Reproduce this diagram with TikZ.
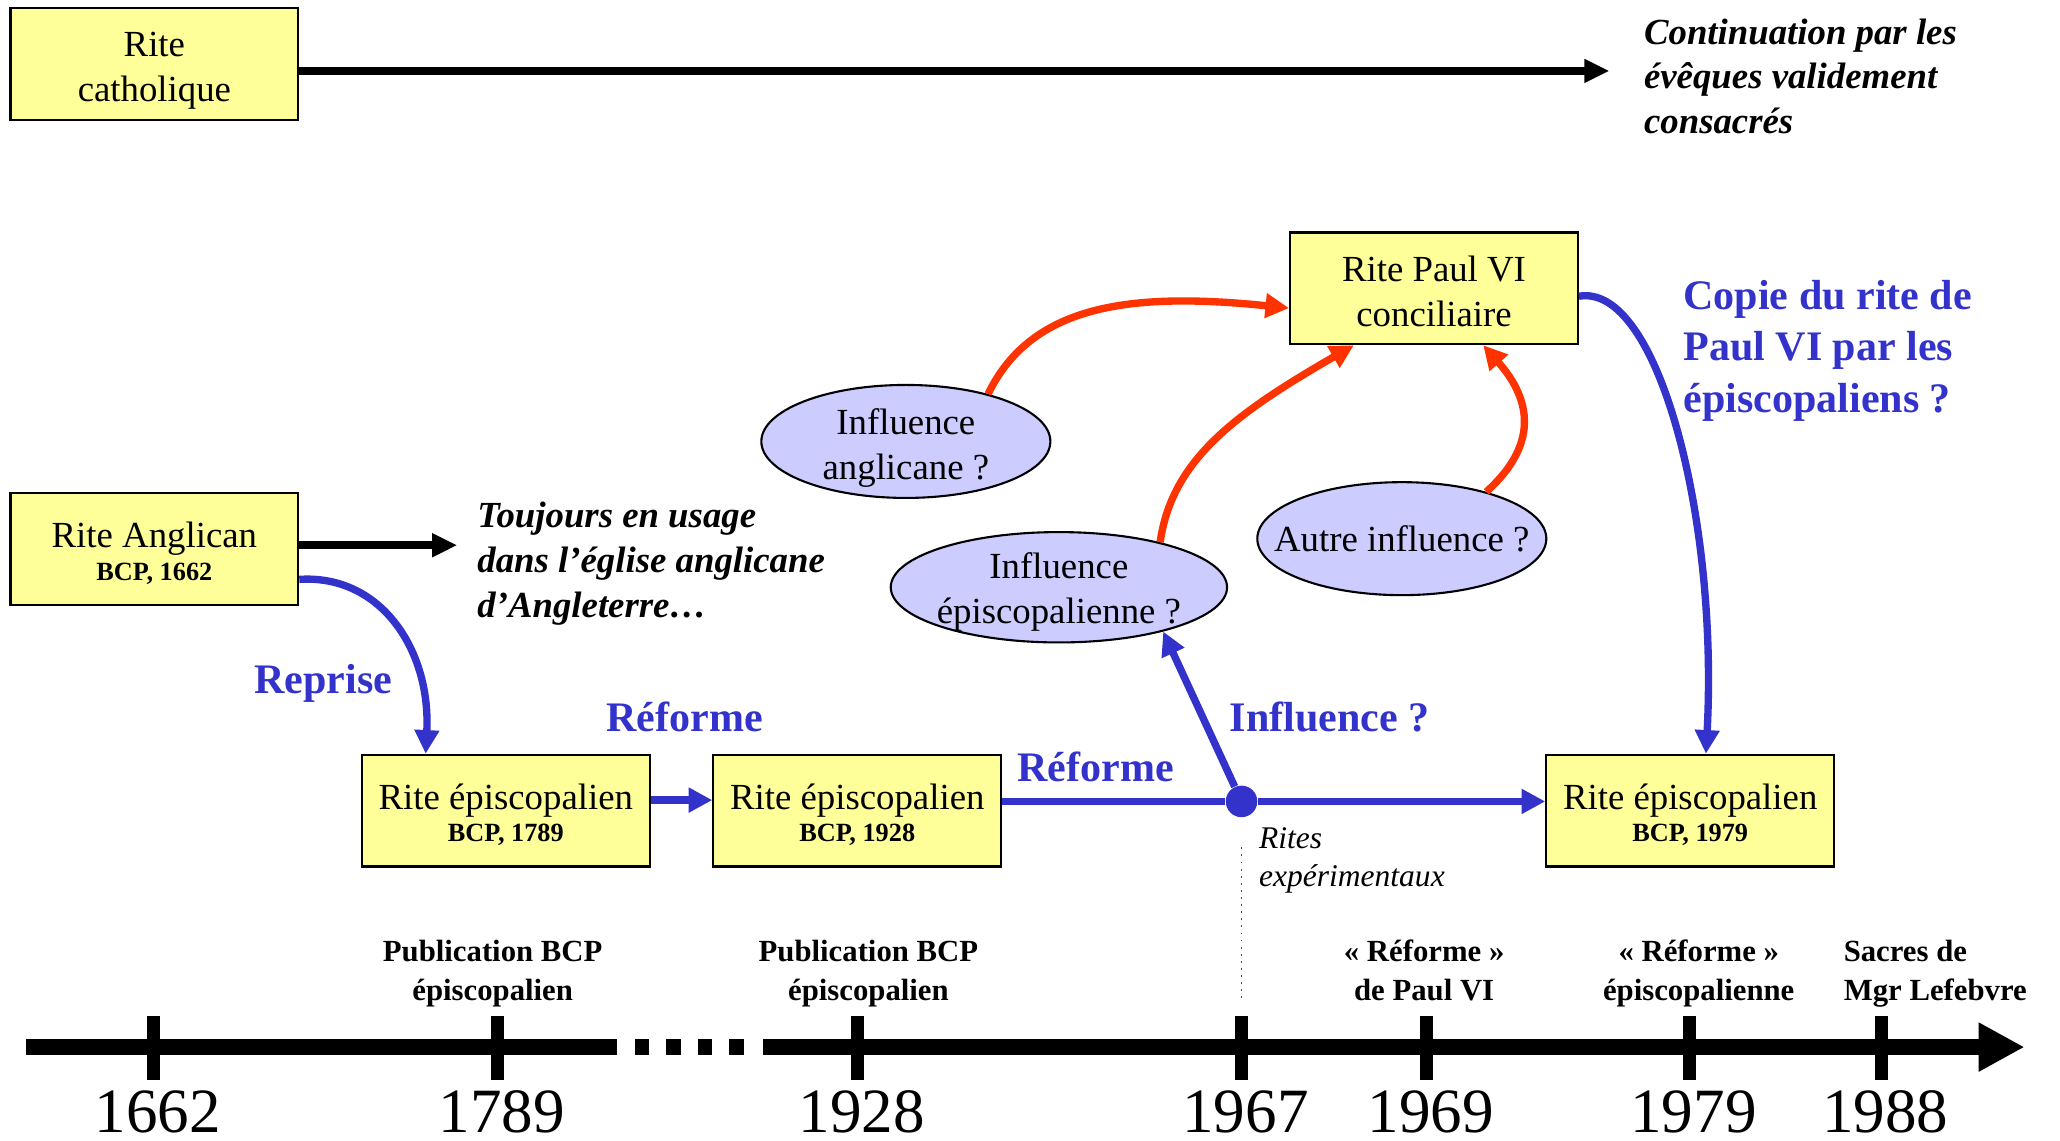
\documentclass[tikz,border=0pt]{standalone}
\usepackage{fontspec}
\setmainfont{Liberation Serif}
\usetikzlibrary{arrows.meta,shapes.geometric}
\definecolor{boxyellow}{HTML}{FFFF99}
\definecolor{ellblue}{HTML}{CCCCFF}
\definecolor{riteblue}{HTML}{3333CC}
\definecolor{infred}{HTML}{FF3300}
\newcommand\topgap[1]{\rule{0pt}{#1}}
\begin{document}
\begin{tikzpicture}[x=0.5pt,y=-0.5pt,
  ritebox/.style={draw=black,line width=0.8pt,fill=boxyellow,minimum width=109.5pt,minimum height=42.5pt,inner sep=0pt,align=center,font=\fontsize{14}{17}\selectfont},
  infl/.style={ellipse,draw=black,line width=0.8pt,fill=ellblue,inner sep=0pt},
  intext/.style={align=center,inner sep=0pt,font=\fontsize{14}{17}\selectfont},
  blk/.style={draw=black,line width=2.9pt,-{Triangle[length=9.5pt,width=8.5pt]}},
  bluearr/.style={draw=riteblue,line width=2.8pt,-{Triangle[length=9pt,width=9pt]}},
  blueline/.style={draw=riteblue,line width=2.8pt},
  redarr/.style={draw=infred,line width=2.8pt,-{Triangle[length=9pt,width=9pt]}},
  bluelab/.style={text=riteblue,font=\fontsize{16}{19.5}\selectfont\bfseries,anchor=base,inner sep=0pt},
  note/.style={font=\fontsize{14}{17}\selectfont\bfseries\itshape,align=left,anchor=west,inner sep=0pt},
  bluenote/.style={text=riteblue,font=\fontsize{16}{19.5}\selectfont\bfseries,align=left,anchor=west,inner sep=0pt},
  evt/.style={font=\fontsize{11.7}{15}\selectfont\bfseries,align=center,inner sep=0pt},
  yearlab/.style={font=\fontsize{24}{28}\selectfont,anchor=base,inner sep=0pt},
  tickmark/.style={draw=black,line width=5pt},
  tline/.style={draw=black,line width=6pt},
]
\useasboundingbox (0,0) rectangle (1568,868);

% boxes
\node[ritebox] (bcat) at (117.5,48.5) {\topgap{14.5pt}Rite\\catholique};
\node[ritebox] (bpaul) at (1091.5,219.5) {\topgap{12pt}Rite Paul VI\\conciliaire};
\node[ritebox] (bang) at (117.5,418) {\topgap{13pt}Rite Anglican\\[-4.5pt]{\fontsize{10}{12}\selectfont\bfseries BCP, 1662}};
\node[ritebox] (b89) at (385,617) {\topgap{13pt}Rite épiscopalien\\[-5pt]{\fontsize{10}{12}\selectfont\bfseries BCP, 1789}};
\node[ritebox] (b28) at (652.5,617) {\topgap{13pt}Rite épiscopalien\\[-5pt]{\fontsize{10}{12}\selectfont\bfseries BCP, 1928}};
\node[ritebox] (b79) at (1286.5,617) {\topgap{13pt}Rite épiscopalien\\[-5pt]{\fontsize{10}{12}\selectfont\bfseries BCP, 1979}};

% ellipses
\node[infl,minimum width=110pt,minimum height=43pt] (eang) at (689.5,336) {};
\node[intext] (tang) at ([yshift=-2.5pt]eang.center) {Influence\\anglicane ?};
\node[infl,minimum width=128pt,minimum height=42pt] (eepi) at (806,447) {};
\node[intext] (tepi) at ([yshift=-1.75pt]eepi.center) {Influence\\épiscopalienne ?};
\node[infl,minimum width=110pt,minimum height=43pt] (eaut) at (1067,410) {};
\node[intext] (taut) at (eaut) {Autre influence ?};

% notes
\node[note] (ncont) at (1251,58) {Continuation par les\\évêques validement\\consacrés};
\node[note] (ntouj) at (363,429) {Toujours en usage\\dans l’église anglicane\\d’Angleterre…};
\node[bluenote] (ncopie) at (1281,267) {Copie du rite de\\Paul VI par les\\épiscopaliens ?};
\node[font=\fontsize{12}{14.5}\selectfont\itshape,align=left,anchor=west,inner sep=0pt] (nrites) at (958,655) {Rites\\expérimentaux};

% blue labels
\node[bluelab] (lrep) at (246,528) {Reprise};
\node[bluelab] (lref1) at (521,557) {Réforme};
\node[bluelab] (lref2) at (834,595) {Réforme};
\node[bluelab] (linf) at (1012,557) {Influence ?};

% black arrows
\coordinate (cend) at (1225,54);
\draw[blk] (bcat.east|-cend) -- (cend);
\coordinate (tjend) at (348,415);
\draw[blk] (bang.east|-tjend) -- (tjend);

% blue connectors
\node[circle,fill=riteblue,minimum size=12pt,inner sep=0pt] (dot) at (945,610) {};
\draw[bluearr] ([yshift=-11.5pt]bang.east) .. controls (290,437) and (328,495) .. ([xshift=-30.5pt]b89.north);
\draw[bluearr] ([yshift=4pt]b89.east) -- ([yshift=4pt]b28.west);
\draw[blueline] (b28.east|-dot) -- (dot);
\draw[bluearr] (dot) -- (b79.west|-dot);
\draw[bluearr] (dot) -- (eepi.-23);
\draw[bluearr] ([yshift=-3pt]bpaul.east) .. controls (1262,215) and (1308,395) .. ([xshift=6pt]b79.north);

% red connectors
\draw[redarr] (eang.30) .. controls (785,232) and (860,222) .. ([yshift=-7.5pt]bpaul.west);
\draw[redarr] (eepi.24) .. controls (892,350) and (940,315) .. ([xshift=-30.5pt]bpaul.south);
\draw[redarr] (eaut.29) .. controls (1175,335) and (1162,300) .. ([xshift=18.75pt]bpaul.south);

% dotted guide
\coordinate (dtop) at (945,645);
\coordinate (dbot) at (945,762);
\draw[dotted,line width=0.7pt,black!70] (dtop) -- (dbot);

% timeline
\coordinate (tl0) at (20,797);
\coordinate (tl1) at (470,797);
\coordinate (tl2) at (581,797);
\coordinate (tlend) at (1541,797);
\draw[tline] (tl0) -- (tl1);
\draw[tline,dash pattern=on 5.5pt off 6.5pt] (483,797) -- (566,797);
\draw[tline,-{Triangle[length=17.5pt,width=17.5pt]}] (tl2) -- (tlend);
\foreach \tx/\yr in {117/1662,379/1789,653/1928,945/1967,1086/1969,1286/1979,1432/1988}{
  \draw[tickmark] (\tx,773) -- (\tx,822);
  \node[yearlab] (y\yr) at (\tx+3,862) {\yr};
}

% events
\node[evt] (ev1) at (375,741) {Publication BCP\\épiscopalien};
\node[evt] (ev2) at (661,741) {Publication BCP\\épiscopalien};
\node[evt] (ev3) at (1084,738.5) {«~Réforme~»\\de Paul VI};
\node[evt] (ev4) at (1293,741) {«~Réforme~»\\épiscopalienne};
\node[evt,align=left,anchor=west] (ev5) at (1403,741) {Sacres de\\Mgr Lefebvre};

\end{tikzpicture}
\end{document}
